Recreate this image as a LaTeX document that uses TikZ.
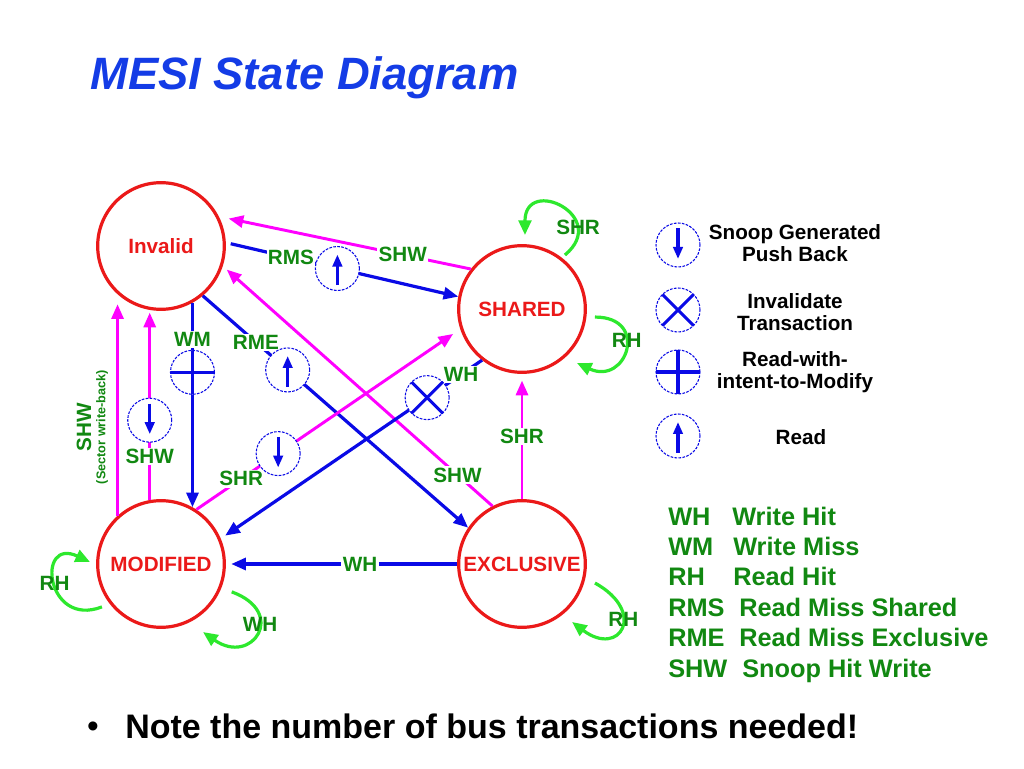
\documentclass[tikz,border=0pt]{standalone}
\usepackage{fontspec}
\setmainfont{Liberation Sans}
\usetikzlibrary{arrows.meta}

\definecolor{titleblue}{RGB}{20,60,230}
\definecolor{lineblue}{RGB}{10,10,230}
\definecolor{pinkline}{RGB}{255,0,255}
\definecolor{statered}{RGB}{235,25,25}
\definecolor{labelgreen}{RGB}{17,136,17}
\definecolor{loopgreen}{RGB}{45,232,45}

\tikzset{
  state/.style={circle, draw=statered, line width=2.4pt, minimum size=95pt, inner sep=0pt,
    text=statered, font=\fontsize{15.5}{18}\selectfont\bfseries},
  blueedge/.style={lineblue, line width=2.4pt, -{Triangle[length=11pt,width=9pt]}},
  pinkedge/.style={pinkline, line width=2.2pt, -{Triangle[length=11pt,width=9pt]}},
  loopedge/.style={loopgreen, line width=2.4pt, -{Triangle[length=11pt,width=9.5pt]}},
  lbl/.style={fill=white, text=labelgreen, inner sep=1pt, font=\fontsize{15.5}{16}\selectfont\bfseries},
  looplbl/.style={text=labelgreen, inner sep=0pt, font=\fontsize{15.5}{16}\selectfont\bfseries},
  opcircle/.style={circle, draw=lineblue, dash pattern=on 2pt off 1pt, line width=0.8pt,
    fill=white, minimum size=33pt, inner sep=0pt},
  opline/.style={lineblue, solid, line width=2.3pt, shorten <=0pt, shorten >=0pt},
  pushback/.style={opcircle, path picture={
    \draw[opline, -{Triangle[length=9pt,width=7pt]}] ([yshift=-4pt]path picture bounding box.north)
      -- ([yshift=6pt]path picture bounding box.south);}},
  readop/.style={opcircle, path picture={
    \draw[opline, -{Triangle[length=9pt,width=7pt]}] ([yshift=4pt]path picture bounding box.south)
      -- ([yshift=-6pt]path picture bounding box.north);}},
  invtrans/.style={opcircle, path picture={
    \draw[opline, -] (path picture bounding box.north west) -- (path picture bounding box.south east);
    \draw[opline, -] (path picture bounding box.south west) -- (path picture bounding box.north east);}},
  rwitm/.style={opcircle, path picture={
    \draw[opline, -] (path picture bounding box.north) -- (path picture bounding box.south);
    \draw[opline, -] (path picture bounding box.west) -- (path picture bounding box.east);}},
  legend/.style={align=center, inner sep=0pt, font=\fontsize{15.5}{16}\selectfont\bfseries},
  keytxt/.style={anchor=base west, inner sep=0pt, text=labelgreen, font=\fontsize{19}{20}\selectfont\bfseries}
}

\begin{document}
\begin{tikzpicture}[x=0.75pt, y=0.75pt]
    \fill[white] (0,0) rectangle (1024,768);
    \useasboundingbox (0,0) rectangle (1024,768);

    \node[anchor=base west, inner sep=0pt, text=titleblue, font=\fontsize{34}{40}\selectfont\bfseries\itshape] (title) at (90,678) {MESI State Diagram};

    \node[state] (inv) at (161,522) {Invalid};
    \node[state] (sh) at (522,459) {SHARED};
    \node[state] (mod) at (161,204) {MODIFIED};
    \node[state] (ex) at (522,204) {EXCLUSIVE};

    \draw[pinkedge, shorten >=7.5pt] (sh.142) -- node[lbl, pos=0.27] (lshwa) {SHW} (inv.27);
    \draw[blueedge, shorten <=3.75pt] (inv.3) -- node[lbl, pos=0.28] (lrms) {RMS} node[readop, pos=0.48] (oprms) {} (sh.169);
    \draw[blueedge] (inv.-61) -- node[lbl, pos=0.18] (lwm) {WM} node[rwitm, pos=0.34] (opwm) {} (mod.61);
    \draw[blueedge] (inv.-50) -- node[lbl, pos=0.2] (lrme) {RME} node[readop, pos=0.32] (oprme) {} (ex.146);
    \draw[pinkedge, shorten >=7.5pt] (mod.132) -- (inv.228);
    \draw[pinkedge, shorten >=2pt] (mod.100) -- node[lbl, pos=0.23] (lshwb) {SHW} node[pushback, pos=0.42] (oppba) {} (inv.260);
    \draw[pinkedge, shorten >=6.5pt] (mod.57) -- node[lbl, pos=0.17] (lshra) {SHR} node[pushback, pos=0.31] (oppbb) {} (sh.198);
    \draw[pinkedge, shorten >=4pt] (ex.117) -- node[lbl, pos=0.13] (lshwc) {SHW} (inv.-18);
    \draw[blueedge, shorten >=4pt] (sh.232) -- node[lbl, pos=0.08] (lwha) {WH} node[invtrans, pos=0.21] (opinv) {} (mod.23);
    \draw[pinkedge, shorten >=5pt] (ex.90) -- node[lbl] (lshrb) {SHR} (sh.270);
    \draw[blueedge, shorten >=4pt] (ex.180) -- node[lbl, pos=0.42] (lwhb) {WH} (mod.0);

    \node[rotate=90, text=labelgreen, inner sep=0pt, font=\fontsize{15.5}{16}\selectfont\bfseries] (lshwd) at (84,341) {SHW};
    \node[rotate=90, text=labelgreen, inner sep=0pt, font=\fontsize{9.5}{10}\selectfont\bfseries] (lsector) at (102,341) {(Sector write-back)};

    \draw[loopedge] ([shift={(51.5:69)}]sh.center) .. controls +(40:60) and +(90:60) .. node[looplbl, pos=0.25] (lshrc) {SHR} ([shift={(87.7:74)}]sh.center);
    \draw[loopedge] ([shift={(-6.3:73.4)}]sh.center) .. controls +(0:55) and +(-25:55) .. node[looplbl, pos=0.4] (lrha) {RH} ([shift={(-44.5:77)}]sh.center);
    \draw[loopedge] ([shift={(216:73)}]mod.center) .. controls +(201:60) and +(155:60) .. node[looplbl, pos=0.5] (lrhb) {RH} ([shift={(178.4:71)}]mod.center);
    \draw[loopedge] ([shift={(-21.5:76)}]mod.center) .. controls +(-20:60) and +(-35:60) .. node[looplbl, pos=0.4] (lwhc) {WH} ([shift={(-58.3:80)}]mod.center);
    \draw[loopedge] ([shift={(-14.6:75.4)}]ex.center) .. controls +(-29:60) and +(-37:60) .. node[looplbl, pos=0.4] (lrhc) {RH} ([shift={(-49.2:76.6)}]ex.center);

    \node[pushback] (lgpb) at (678,523) {};
    \node[invtrans] (lginv) at (678,458) {};
    \node[rwitm] (lgrw) at (678,396) {};
    \node[readop] (lgrd) at (678,332) {};
    \node[legend] (tpb) at (795,525) {Snoop Generated\\Push Back};
    \node[legend] (tinv) at (795,456) {Invalidate\\Transaction};
    \node[legend] (trw) at (795,396) {Read-with-\\intent-to-Modify};
    \node[legend] (trd) at (801,331) {Read};

    \foreach \ab/\txt/\tx [count=\i] in {WH/Write Hit/732, WM/Write Miss/733, RH/Read Hit/733,
        RMS/Read Miss Shared/739, RME/Read Miss Exclusive/739, SHW/Snoop Hit Write/742} {
        \node[keytxt] (ab\i) at (668, {273.4-30.4*\i}) {\ab};
        \node[keytxt] (tx\i) at (\tx, {273.4-30.4*\i}) {\txt};
    }

    \node[anchor=base, inner sep=0pt, font=\fontsize{25}{30}\selectfont] (bullet) at (93,31) {•};
    \node[anchor=base west, inner sep=0pt, font=\fontsize{25.5}{30}\selectfont\bfseries] (note) at (125,30) {Note the number of bus transactions needed!};
\end{tikzpicture}
\end{document}
